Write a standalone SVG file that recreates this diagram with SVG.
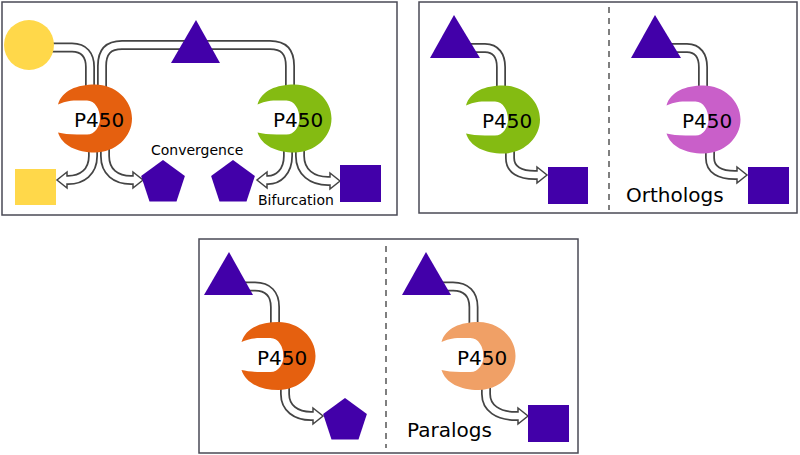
<svg xmlns="http://www.w3.org/2000/svg" xmlns:xlink="http://www.w3.org/1999/xlink" width="800" height="455" viewBox="0 0 800 455">
<style>
.panel{fill:#fff;stroke:#4a4a55;stroke-width:1.5}
.dash{stroke:#555;stroke-width:1.5;stroke-dasharray:6,5;fill:none}
.tube{fill:none;stroke:#444;stroke-width:10}
.tubei{fill:none;stroke:#fff;stroke-width:6.5}
.head{fill:#fff;stroke:#444;stroke-width:1.5;stroke-linejoin:miter}
.mol{fill:#4200a9}
.lbl{font-family:"DejaVu Sans",Verdana,sans-serif;fill:#000}
.p450{font-size:20px;text-anchor:middle}
</style>
<defs>
<path id="pac" d="M -37,-14 C -33,-28 -18,-34 0,-34 C 20,-34 37,-19 37,0 C 37,19 20,34 0,34 C -18,34 -33,27 -37,14 C -32,15 -26,16 -18,16 L -8,16 C 0,16 5,8 5,0 C 5,-9 0,-18 -8,-18 L -18,-18 C -27,-18 -32,-16 -37,-14 Z"/>
<polygon id="pent" points="0,-23 21.9,-7.1 13.5,18.6 -13.5,18.6 -21.9,-7.1"/>
</defs>
<rect width="800" height="455" fill="#fff"/>
<g id="panels">
<rect class="panel" x="2" y="2" width="395" height="213"/>
<rect class="panel" x="419" y="2" width="378" height="211"/>
<rect class="panel" x="199" y="239" width="379" height="214"/>
<line class="dash" x1="609" y1="7" x2="609" y2="210"/>
<line class="dash" x1="386" y1="246" x2="386" y2="448"/>
</g>
<g id="connectors">
<!-- input tubes -->
<path class="tube" d="M 45,47.5 L 72,47.5 C 84,47.5 90,55 90,67 L 90,95"/>
<path class="tubei" d="M 45,47.5 L 72,47.5 C 84,47.5 90,55 90,67 L 90,95"/>
<path class="tube" d="M 102,95 L 102,66 C 102,52 108,45 122,45 L 270,45 C 284,45 290,52 290,66 L 290,95"/>
<path class="tubei" d="M 102,95 L 102,66 C 102,52 108,45 122,45 L 270,45 C 284,45 290,52 290,66 L 290,95"/>
<path class="tube" d="M 465,48 L 485,48 C 496,48 501,56 501,67 L 501,95"/>
<path class="tubei" d="M 465,48 L 485,48 C 496,48 501,56 501,67 L 501,95"/>
<path class="tube" d="M 667,48 L 687,48 C 698,48 703,56 703,67 L 703,95"/>
<path class="tubei" d="M 667,48 L 687,48 C 698,48 703,56 703,67 L 703,95"/>
<path class="tube" d="M 240,286.5 L 255,286.5 C 268,286.5 275,294 275,307 L 275,330"/>
<path class="tubei" d="M 240,286.5 L 255,286.5 C 268,286.5 275,294 275,307 L 275,330"/>
<path class="tube" d="M 438,286.5 L 453,286.5 C 466,286.5 473.5,294 473.5,307 L 473.5,330"/>
<path class="tubei" d="M 438,286.5 L 453,286.5 C 466,286.5 473.5,294 473.5,307 L 473.5,330"/>
<!-- output arrows -->
<path class="tube" d="M 93,140 L 93,156 C 93,172 82,180 68,180 L 65,180"/>
<polygon class="head" points="67,172 57,180 67,188"/>
<path class="tubei" d="M 93,140 L 93,156 C 93,172 82,180 68,180 L 65,180"/>
<path class="tube" d="M 105,140 L 105,156 C 105,172 116,180 131,180 L 135,180"/>
<polygon class="head" points="133,172 143,180 133,188"/>
<path class="tubei" d="M 105,140 L 105,156 C 105,172 116,180 131,180 L 135,180"/>
<path class="tube" d="M 288,140 L 288,156 C 288,172 278,180 268,180 L 265,180"/>
<polygon class="head" points="267,172 257,180 267,188"/>
<path class="tubei" d="M 288,140 L 288,156 C 288,172 278,180 268,180 L 265,180"/>
<path class="tube" d="M 300,140 L 300,156 C 300,172 312,181 328,181 L 332,181"/>
<polygon class="head" points="330,173 340,181 330,189"/>
<path class="tubei" d="M 300,140 L 300,156 C 300,172 312,181 328,181 L 332,181"/>
<path class="tube" d="M 510,140 L 510,158 C 510,170 520,175 535,175 L 539,175"/>
<polygon class="head" points="537,167 547,175 537,183"/>
<path class="tubei" d="M 510,140 L 510,158 C 510,170 520,175 535,175 L 539,175"/>
<path class="tube" d="M 710,140 L 710,158 C 710,170 720,175 735,175 L 739,175"/>
<polygon class="head" points="737,167 747,175 737,183"/>
<path class="tubei" d="M 710,140 L 710,158 C 710,170 720,175 735,175 L 739,175"/>
<path class="tube" d="M 285,378 L 285,394 C 285,408 296,416 311,416 L 315,416"/>
<polygon class="head" points="313,408 323,416 313,424"/>
<path class="tubei" d="M 285,378 L 285,394 C 285,408 296,416 311,416 L 315,416"/>
<path class="tube" d="M 486,378 L 486,394 C 486,408 498,416 516,416 L 520,416"/>
<polygon class="head" points="518,408 528,416 518,424"/>
<path class="tubei" d="M 486,378 L 486,394 C 486,408 498,416 516,416 L 520,416"/>
</g>
<g id="yellow-circle"><circle cx="29" cy="45" r="25" fill="#ffd84a"/></g>
<g id="triangle-1"><polygon class="mol" points="196,20 171,63 220,63"/></g>
<g id="p450-orange-1"><use xlink:href="#pac" href="#pac" x="95" y="118.5" fill="#e5600f"/><text class="lbl p450" x="99" y="127">P450</text></g>
<g id="p450-green-1"><use xlink:href="#pac" href="#pac" x="294.5" y="118.5" fill="#84bb12"/><text class="lbl p450" x="298" y="127">P450</text></g>
<g id="yellow-square"><rect x="15" y="169" width="41" height="36" fill="#ffd84a"/></g>
<g id="pentagon-1"><use xlink:href="#pent" href="#pent" x="163" y="183" class="mol"/></g>
<g id="pentagon-2"><use xlink:href="#pent" href="#pent" x="233" y="183" class="mol"/></g>
<g id="square-1"><rect class="mol" x="340" y="165" width="41" height="37"/></g>
<g id="label-convergence"><text class="lbl" x="151" y="155" font-size="14">Convergence</text></g>
<g id="label-bifurcation"><text class="lbl" x="258" y="204.5" font-size="14">Bifurcation</text></g>
<g id="triangle-2"><polygon class="mol" points="454,15 430,58 480,58"/></g>
<g id="p450-green-2"><use xlink:href="#pac" href="#pac" x="503" y="119.5" fill="#84bb12"/><text class="lbl p450" x="507" y="128">P450</text></g>
<g id="square-2"><rect class="mol" x="548" y="167" width="40" height="37"/></g>
<g id="triangle-3"><polygon class="mol" points="655,15 631,58 681,58"/></g>
<g id="p450-magenta"><use xlink:href="#pac" href="#pac" x="703.5" y="119.5" fill="#c95fc9"/><text class="lbl p450" x="707" y="128">P450</text></g>
<g id="square-3"><rect class="mol" x="748" y="167" width="41" height="37"/></g>
<g id="label-orthologs"><text class="lbl" x="626" y="202" font-size="20">Orthologs</text></g>
<g id="triangle-4"><polygon class="mol" points="229,252 204,295 253,295"/></g>
<g id="p450-orange-2"><use xlink:href="#pac" href="#pac" x="278.5" y="356" fill="#e5600f"/><text class="lbl p450" x="282" y="365">P450</text></g>
<g id="pentagon-3"><use xlink:href="#pent" href="#pent" x="345" y="421" class="mol"/></g>
<g id="triangle-5"><polygon class="mol" points="426,252 402,295 451,295"/></g>
<g id="p450-lightorange"><use xlink:href="#pac" href="#pac" x="478.5" y="356" fill="#f0a066"/><text class="lbl p450" x="482" y="365">P450</text></g>
<g id="square-4"><rect class="mol" x="528" y="405" width="41" height="37"/></g>
<g id="label-paralogs"><text class="lbl" x="407" y="437" font-size="20">Paralogs</text></g>
</svg>
